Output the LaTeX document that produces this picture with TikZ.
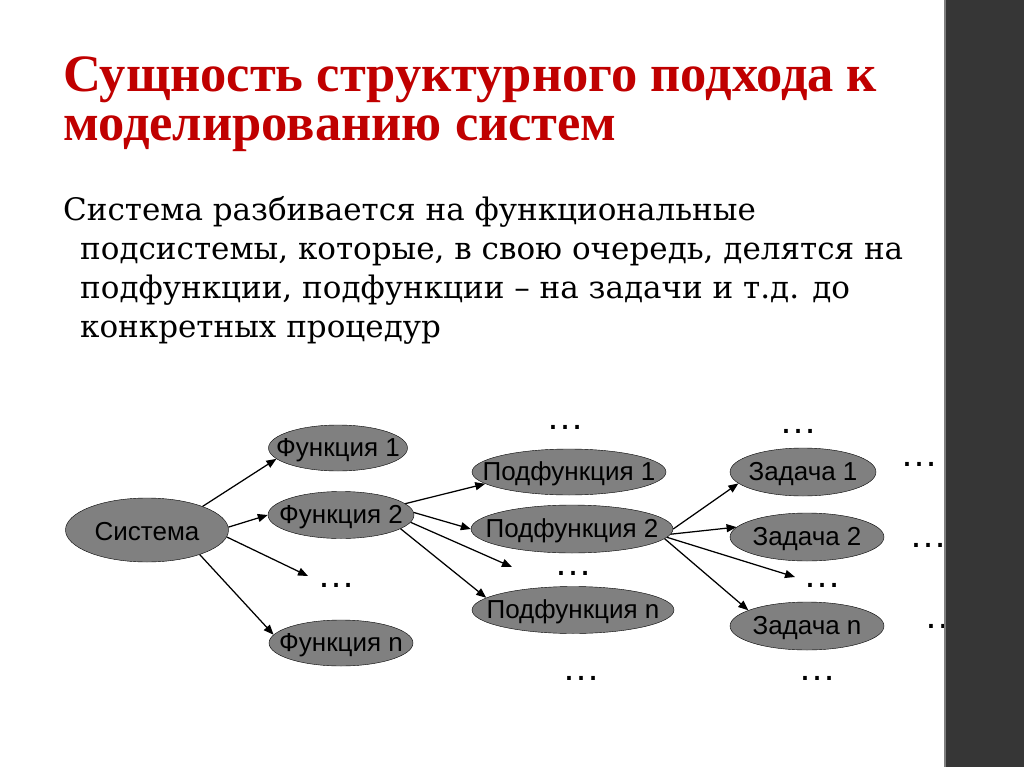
\documentclass[tikz,border=0pt]{standalone}
\usepackage{fontspec}
\setmainfont{DejaVu Serif}
\newfontfamily\titlefont{Liberation Serif}
\newfontfamily\diagfont{Liberation Sans}
\usetikzlibrary{arrows.meta, shapes.geometric}

\definecolor{titlered}{RGB}{192,0,0}
\definecolor{bubblegray}{RGB}{128,128,128}
\definecolor{sidebar}{RGB}{54,54,54}

\tikzset{
  bubble/.style = {ellipse, draw=black, fill=bubblegray, inner sep=0pt,
                   label={[font=\diagfont\fontsize{26}{28}\selectfont, yshift=-2pt]center:#1}},
  link/.style   = {line width=1.25pt, -{Triangle[length=10pt, width=8pt]}},
  more/.style   = {font=\diagfont\fontsize{38}{38}\selectfont, inner sep=0pt},
  headline/.style = {anchor=base west, inner sep=0pt, text=titlered,
                     font=\titlefont\bfseries\fontsize{52.5}{52}\selectfont},
  bodyline/.style = {anchor=base west, inner sep=0pt,
                     font=\fontsize{31}{31}\selectfont}
}

\begin{document}
\begin{tikzpicture}[x=1pt, y=-1pt]
  \useasboundingbox (0,0) rectangle (1024,767);

  % heading and text
  \node[headline] (t1) at (63,92) {Сущность структурного подхода к};
  \node[headline] (t2) at (63,141) {моделированию систем};
  \node[bodyline] (b1) at (63,221) {Система разбивается на функциональные};
  \node[bodyline] (b2) at (80,259) {подсистемы, которые, в свою очередь, делятся на};
  \node[bodyline] (b3) at (80,298) {подфункции, подфункции -- на задачи и т.д. до};
  \node[bodyline] (b4) at (80,337) {конкретных процедур};

  % levels of the structure
  \node[bubble=Система, minimum width=163, minimum height=64] (sys) at (147,530) {};
  \node[bubble=Функция 1, minimum width=139, minimum height=46] (f1) at (338,448) {};
  \node[bubble=Функция 2, minimum width=146, minimum height=47] (f2) at (341,515) {};
  \node[bubble=Функция n, minimum width=144, minimum height=46] (fn) at (341,643) {};
  \node[bubble=Подфункция 1, minimum width=194, minimum height=46] (p1) at (569,472) {};
  \node[bubble=Подфункция 2, minimum width=202, minimum height=48] (p2) at (572,529) {};
  \node[bubble=Подфункция n, minimum width=202, minimum height=47] (pn) at (573,610) {};
  \node[bubble=Задача 1, minimum width=146, minimum height=48] (z1) at (803,472) {};
  \node[bubble=Задача 2, minimum width=154, minimum height=48] (z2) at (807,537) {};
  \node[bubble=Задача n, minimum width=154, minimum height=48] (zn) at (807,626) {};

  % dots
  \node[more] (d1) at (336,585) {…};
  \node[more] (d2) at (565,427) {…};
  \node[more] (d3) at (573,573) {…};
  \node[more] (d4) at (581,678) {…};
  \node[more] (d5) at (798,431) {…};
  \node[more] (d6) at (822,585) {…};
  \node[more] (d7) at (817,678) {…};
  \node[more] (d8) at (919,464) {…};
  \node[more] (d9) at (928,545) {…};
  \node[more] (d10) at (943,626) {…};

  \coordinate (e1) at (308,576);
  \coordinate (e2) at (512,567);
  \coordinate (e3) at (795,577);

  \draw[link] (sys.23) -- (f1.190);
  \draw[link] (sys.2) -- (f2.180);
  \draw[link] (sys.-5) -- (e1);
  \draw[link] (sys.-25) -- (fn.173);
  \draw[link] (f2.10) -- (p1.188);
  \draw[link] (f2.2) -- (p2.180);
  \draw[link] (f2.-6) -- (e2);
  \draw[link] (f2.-13) -- (pn.172);
  \draw[link] (p2.0) -- (z1.190);
  \draw[link] (p2.-3) -- (z2.172);
  \draw[link] (p2.-5) -- (e3);
  \draw[link] (p2.-6) -- (zn.165);

  % side bar
  \fill[sidebar] (945,0) rectangle (1024,767);
  \draw[gray, line width=1.5pt] (945,0) -- (945,767);
\end{tikzpicture}
\end{document}
